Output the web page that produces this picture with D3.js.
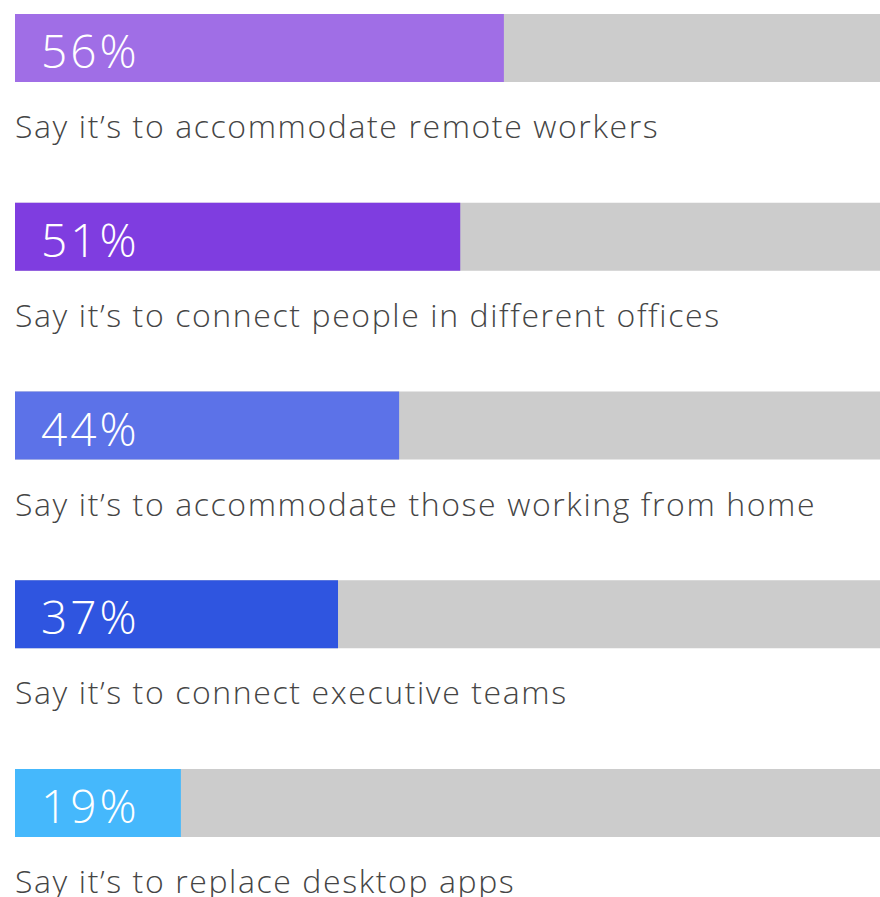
<!DOCTYPE html>
<html>
<head>
<meta charset="utf-8">
<script src="https://cdn.jsdelivr.net/npm/d3@7"></script>
<style>
  html, body { margin: 0; padding: 0; background: #ffffff; }
  svg { display: block; }
</style>
</head>
<body>
<svg id="chart" width="880" height="897"></svg>
<script>
// Survey responses: why organisations use video conferencing
const categories = [
  "Say it’s to accommodate remote workers",
  "Say it’s to connect people in different offices",
  "Say it’s to accommodate those working from home",
  "Say it’s to connect executive teams",
  "Say it’s to replace desktop apps"
];
const values = [56, 51, 44, 37, 19];
const barColors = ["#a06ee6", "#7f3de0", "#5c72e8", "#2f55e0", "#45b8fc"];

const svg = d3.select("#chart");

const x = d3.scaleLinear().domain([0, 100]).range([15, 888]);
const y = d3.scaleBand()
  .domain(d3.range(categories.length))
  .range([14, 14 + 188.75 * categories.length]);
const barH = 68;

const rows = svg.selectAll("g.row")
  .data(values)
  .join("g")
  .attr("class", "row")
  .attr("transform", (d, i) => `translate(0,${y(i)})`);

// grey track spanning the full 0–100% range
rows.append("rect")
  .attr("x", x(0))
  .attr("y", 0)
  .attr("width", x(100) - x(0))
  .attr("height", barH)
  .attr("fill", "#cccccc");

// coloured value bar
rows.append("rect")
  .attr("x", x(0))
  .attr("y", 0)
  .attr("width", d => x(d) - x(0))
  .attr("height", barH)
  .attr("fill", (d, i) => barColors[i]);

// percentage inside the bar
rows.append("text")
  .attr("x", x(0) + 26)
  .attr("y", 54)
  .attr("fill", "#ffffff")
  .style("font-family", "'Open Sans', sans-serif")
  .style("font-weight", 300)
  .style("font-size", "46px")
  .style("letter-spacing", "3px")
  .text(d => d + "%");

// category description under the bar
rows.append("text")
  .attr("x", x(0))
  .attr("y", 124)
  .attr("fill", "#454545")
  .style("font-family", "'Open Sans', sans-serif")
  .style("font-weight", 300)
  .style("font-size", "32px")
  .style("letter-spacing", "1.6px")
  .text((d, i) => categories[i]);
</script>
</body>
</html>
